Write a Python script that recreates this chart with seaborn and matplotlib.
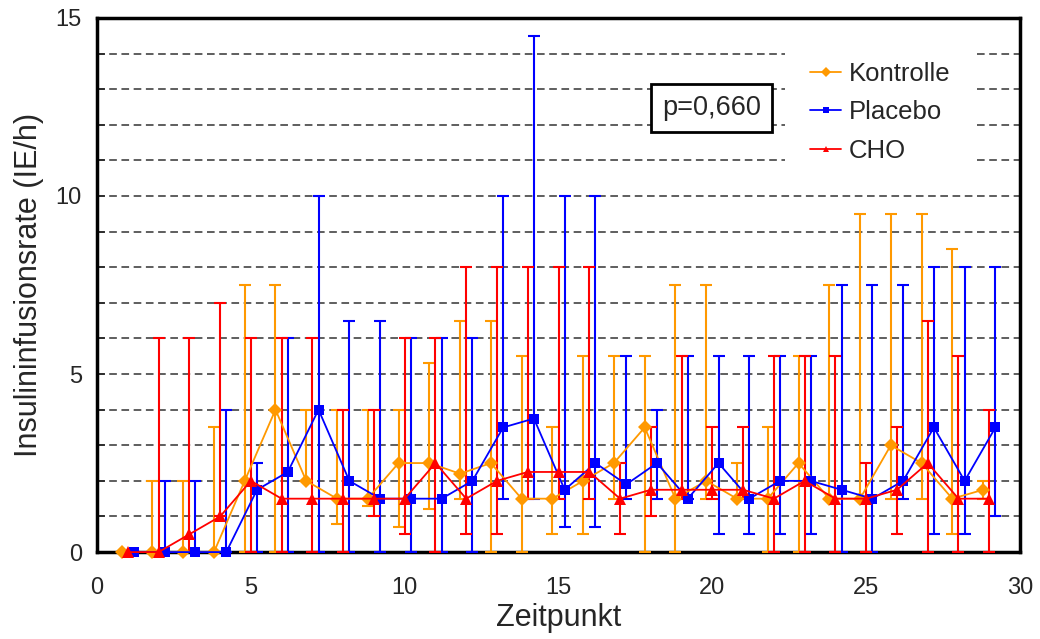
import numpy as np
import seaborn as sns
import matplotlib.pyplot as plt
from matplotlib.lines import Line2D
from matplotlib.ticker import MultipleLocator

zeitpunkt = list(range(1, 30))

# Median mit unterem / oberem Fehlerwert
kontrolle_med = [0, 0, 0, 0, 2, 4, 2, 1.5, 1.5, 2.5, 2.5, 2.2, 2.5, 1.5, 1.5,
                 2, 2.5, 3.5, 1.5, 2, 1.5, 1.5, 2.5, 1.5, 1.5, 3, 2.5, 1.5, 1.75]
kontrolle_low = [0, 0, 0, 0, 0, 0, 2, 0.8, 1.3, 0.7, 1.2, 1.5, 0, 0, 0.5,
                 0.5, 1.5, 0, 0, 1.5, 1.5, 0, 0, 1.5, 1.5, 1.5, 1.5, 0.5, 1.5]
kontrolle_high = [0, 2, 2, 3.5, 7.5, 7.5, 4, 4, 4, 4, 5.3, 6.5, 6.5, 5.5, 3.5,
                  5.5, 5.5, 5.5, 7.5, 7.5, 2.5, 3.5, 5.5, 7.5, 9.5, 9.5, 9.5, 8.5, 2]

placebo_med = [0, 0, 0, 0, 1.75, 2.25, 4, 2, 1.5, 1.5, 1.5, 2, 3.5, 3.75, 1.75,
               2.5, 1.9, 2.5, 1.5, 2.5, 1.5, 2, 2, 1.75, 1.5, 2, 3.5, 2, 3.5]
placebo_low = [0, 0, 0, 0, 0, 0, 0, 0, 0, 0, 0, 0, 1.5, 1.5, 0.7,
               0.7, 1.5, 1.5, 1.5, 0.5, 0.5, 0.5, 0.5, 0, 0, 1.5, 0.5, 0.5, 1]
placebo_high = [0, 2, 2, 4, 2.5, 6, 10, 6.5, 6.5, 6, 6, 6, 10, 14.5, 10,
                10, 5.5, 4, 5.5, 5.5, 5.5, 5.5, 5.5, 7.5, 7.5, 7.5, 8, 8, 8]

cho_med = [0, 0, 0.5, 1, 2, 1.5, 1.5, 1.5, 1.5, 1.5, 2.5, 1.5, 2, 2.25, 2.25,
           2.25, 1.5, 1.75, 1.75, 1.75, 1.75, 1.5, 2, 1.5, 1.5, 1.75, 2.5, 1.5, 1.5]
cho_low = [0, 0, 0, 1, 0, 0, 0, 0, 1, 0.5, 0, 0.5, 0.5, 1.5, 1.5,
           1.5, 0.5, 1, 1.5, 1.5, 1.5, 0, 0, 0, 0, 0.5, 0, 0, 0]
cho_high = [0, 6, 6, 7, 6, 6, 6, 4, 4, 6, 6, 8, 8, 8, 8,
            8, 2.5, 3.5, 5.5, 3.5, 3.5, 5.5, 5.5, 5.5, 2.5, 3.5, 6.5, 5.5, 4]

sns.set_style("white")
plt.rcParams['font.family'] = ['Liberation Sans', 'DejaVu Sans']

dpi = 100
fig = plt.figure(figsize=(1040 / dpi, 639 / dpi), dpi=dpi)
ax = fig.add_axes([0.0933, 0.136, 0.8875, 0.836])

serien = [
    ('Kontrolle', kontrolle_med, kontrolle_low, kontrolle_high, '#FF9900', 'D', 7, -0.2),
    ('Placebo', placebo_med, placebo_low, placebo_high, '#0000FF', 's', 7, 0.2),
    ('CHO', cho_med, cho_low, cho_high, '#FF0000', '^', 8.5, 0.0),
]

handles = []
for name, med, low, high, col, mk, ms, off in serien:
    x = np.array(zeitpunkt) + off
    med = np.array(med, dtype=float)
    low = np.array(low, dtype=float)
    high = np.array(high, dtype=float)
    ax.errorbar(x, med, yerr=[med - low, high - med], fmt='none', ecolor=col,
                elinewidth=1.5, capsize=4, capthick=1.5, zorder=3)
    sns.lineplot(x=x, y=med, ax=ax, color=col, marker=mk, markersize=ms,
                 markeredgewidth=0, linewidth=1.3, zorder=4, clip_on=False,
                 legend=False)
    handles.append(Line2D([0], [0], color=col, marker=mk, markersize=5,
                          markeredgewidth=0, lw=1.3, label=name))

ax.set_xlim(0, 30)
ax.set_ylim(0, 15)
ax.xaxis.set_major_locator(MultipleLocator(5))
ax.yaxis.set_major_locator(MultipleLocator(5))
ax.yaxis.set_minor_locator(MultipleLocator(1))
ax.set_axisbelow(True)
ax.grid(which='both', axis='y', linestyle=(0, (5, 3)), color='#333333', lw=1.1)
ax.grid(which='both', axis='x', visible=False)

for s in ax.spines.values():
    s.set_linewidth(2.5)
    s.set_color('black')

ax.tick_params(axis='y', which='both', direction='in', length=6, width=1.2,
               labelsize=17, pad=11, left=True)
ax.tick_params(axis='x', which='both', length=0, labelsize=17, pad=18)

ax.set_xlabel('Zeitpunkt', fontsize=22, labelpad=3)
ax.set_ylabel('Insulininfusionsrate (IE/h)', fontsize=22, labelpad=8)

ax.text(0.666, 0.831, 'p=0,660', transform=ax.transAxes, ha='center',
        va='center', fontsize=19.5, zorder=6,
        bbox=dict(boxstyle='square,pad=0.4', fc='white', ec='black', lw=2))

leg = ax.legend(handles=handles, loc='upper left', bbox_to_anchor=(0.745, 0.965),
                borderaxespad=0, fontsize=18.5, frameon=True, fancybox=False,
                handlelength=1.2, handletextpad=0.3, labelspacing=0.55,
                borderpad=1.0)
leg.get_frame().set_facecolor('white')
leg.get_frame().set_edgecolor('none')
leg.get_frame().set_alpha(1)
leg.set_zorder(6)

fig.savefig('out.png', dpi=dpi)
